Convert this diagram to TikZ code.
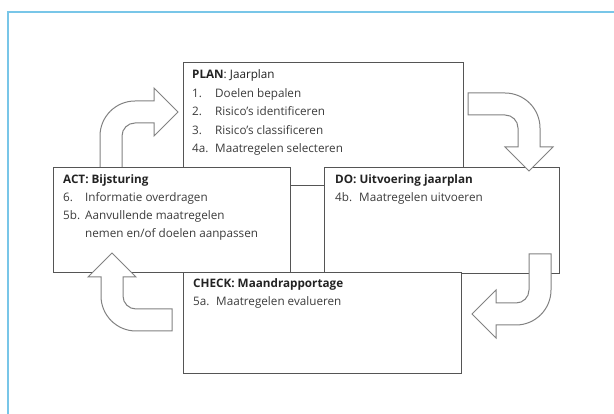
\documentclass[tikz,border=0pt]{standalone}
\usepackage{fontspec}
\setmainfont{Open Sans}
\definecolor{framec}{RGB}{120,198,232}
\definecolor{boxc}{RGB}{85,85,85}
\definecolor{arrc}{RGB}{130,130,130}
\definecolor{txtc}{RGB}{60,60,60}
\definecolor{ttlc}{RGB}{35,35,35}
\begin{document}
\begin{tikzpicture}[x=1pt,y=-1pt,
  box/.style={draw=boxc, line width=1.2pt, fill=white, anchor=north west, inner sep=0pt},
  blockarrow/.style={draw=arrc, line width=1pt, fill=white, line join=miter},
  ttl/.style={anchor=base west, inner sep=0pt, text=ttlc, font=\fontsize{11.7}{13}\selectfont\bfseries},
  itm/.style={anchor=base west, inner sep=0pt, text=txtc, font=\fontsize{11.7}{13}\selectfont}]
\useasboundingbox (0,0) rectangle (614,414);
\fill[white] (0,0) rectangle (614,414);
\draw[framec, line width=1.5pt] (614,12) -- (8,12) -- (8,414);

% boxes
\node[box, minimum width=280pt, minimum height=123pt] (plan) at (183,62) {};
\node[box, minimum width=235pt, minimum height=106pt] (do) at (324,167) {};
\node[box, minimum width=278pt, minimum height=101pt] (check) at (183,272) {};
\node[box, minimum width=237pt, minimum height=105pt] (act) at (53,167) {};

% arrows
\draw[blockarrow] (100,167) -- (100,136) .. controls (100,116.7) and (115.7,101) .. (135,101) -- (154,101) -- (154,88) -- (178,112) -- (154,136) -- (154,123) -- (135,123) .. controls (127.8,123) and (122,128.8) .. (122,136) -- (122,167);
\draw[blockarrow] (468,93) -- (505,93) .. controls (524.3,93) and (540,108.7) .. (540,128) -- (540,147) -- (553,147) -- (529,171) -- (505,147) -- (518,147) -- (518,128) .. controls (518,120.8) and (512.2,115) .. (505,115) -- (468,115) -- cycle;
\draw[blockarrow] (529,254) -- (551,254) -- (551,290) .. controls (551,309.3) and (535.3,325) .. (516,325) -- (496,325) -- (496,338) -- (472,314) -- (496,290) -- (496,303) -- (516,303) .. controls (523.2,303) and (529,297.2) .. (529,290) -- cycle;
\draw[blockarrow] (172,309) -- (136,309) .. controls (128.8,309) and (123,303.2) .. (123,296) -- (123,277) -- (136,277) -- (112,253) -- (88,277) -- (101,277) -- (101,296) .. controls (101,315.3) and (116.7,331) .. (136,331) -- (172,331) -- cycle;

% PLAN text
\node[ttl] (plant) at (192,79) {PLAN\mdseries: Jaarplan};
\node[itm] (p1n) at (192,97.5) {1.};
\node[itm] (p1) at (215,97.5) {Doelen bepalen};
\node[itm] (p2n) at (192,116) {2.};
\node[itm] (p2) at (215,116) {Risico’s identificeren};
\node[itm] (p3n) at (192,134.5) {3.};
\node[itm] (p3) at (215,134.5) {Risico’s classificeren};
\node[itm] (p4n) at (192,153) {4a.};
\node[itm] (p4) at (215,153) {Maatregelen selecteren};

% ACT text
\node[ttl] (actt) at (63,184) {ACT: Bijsturing};
\node[itm] (a1n) at (63,202) {6.};
\node[itm] (a1) at (85,202) {Informatie overdragen};
\node[itm] (a2n) at (63,220) {5b.};
\node[itm] (a2) at (85,220) {Aanvullende maatregelen};
\node[itm] (a3) at (85,238) {nemen en/of doelen aanpassen};

% DO text
\node[ttl] (dot) at (335,184) {DO: Uitvoering jaarplan};
\node[itm] (d1n) at (335,202) {4b.};
\node[itm] (d1) at (359,202) {Maatregelen uitvoeren};

% CHECK text
\node[ttl] (checkt) at (193,288) {CHECK: Maandrapportage};
\node[itm] (c1n) at (193,306) {5a.};
\node[itm] (c1) at (216,306) {Maatregelen evalueren};
\end{tikzpicture}
\end{document}
